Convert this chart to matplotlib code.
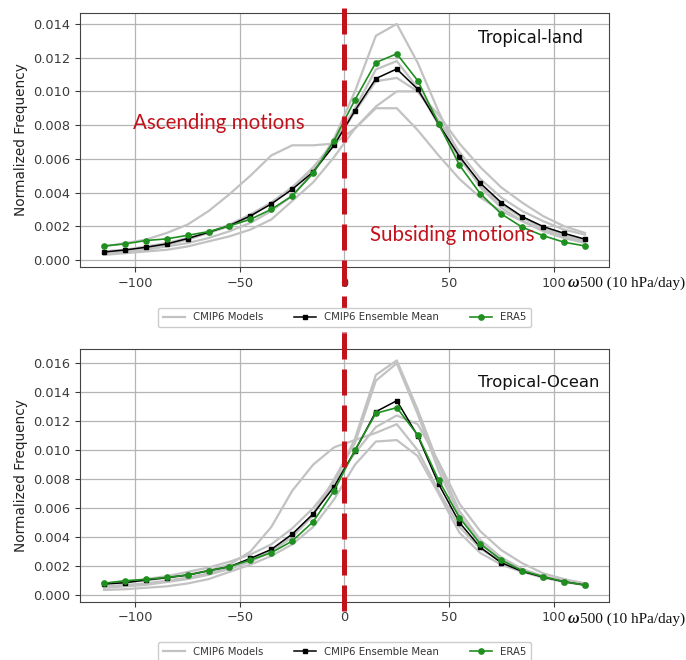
import matplotlib
matplotlib.use("Agg")
import matplotlib.pyplot as plt
import matplotlib.transforms as mtransforms
from matplotlib.text import Annotation

# ---------------- data ----------------
omega = [-115, -105, -95, -85, -75, -65, -55, -45, -35, -25, -15, -5,
         5, 15, 25, 35, 45, 55, 65, 75, 85, 95, 105, 115]

# Tropical-land
land_era5 = [0.00083, 0.00095, 0.00115, 0.00125, 0.00146, 0.00168, 0.00202, 0.00241, 0.00300, 0.00380, 0.00514, 0.00708,
             0.00950, 0.01171, 0.01223, 0.01064, 0.00809, 0.00562, 0.00392, 0.00273, 0.00194, 0.00144, 0.00105, 0.00083]
land_mean = [0.00047, 0.00059, 0.00075, 0.00095, 0.00127, 0.00164, 0.00204, 0.00261, 0.00332, 0.00419, 0.00522, 0.00680,
             0.00886, 0.01076, 0.01133, 0.01013, 0.00807, 0.00613, 0.00455, 0.00340, 0.00257, 0.00198, 0.00158, 0.00123]
land_model_a = [0.0004, 0.0005, 0.0006, 0.0008, 0.0010, 0.0013, 0.0017, 0.0022, 0.0029, 0.0038, 0.0052, 0.0072,
                0.0100, 0.0133, 0.0140, 0.0117, 0.0088, 0.0062, 0.0043, 0.0031, 0.0023, 0.0017, 0.0013, 0.0010]
land_model_b = [0.0005, 0.0006, 0.0008, 0.0010, 0.0013, 0.0016, 0.0021, 0.0027, 0.0034, 0.0043, 0.0055, 0.0070,
                0.0090, 0.0113, 0.0118, 0.0102, 0.0080, 0.0060, 0.0044, 0.0033, 0.0025, 0.0019, 0.0015, 0.0012]
land_model_c = [0.0005, 0.0006, 0.0007, 0.0009, 0.0012, 0.0016, 0.0020, 0.0026, 0.0034, 0.0043, 0.0054, 0.0068,
                0.0088, 0.0106, 0.0108, 0.0100, 0.0083, 0.0064, 0.0048, 0.0037, 0.0029, 0.0023, 0.0018, 0.0015]
land_model_d = [0.0003, 0.0004, 0.0005, 0.0006, 0.0008, 0.0011, 0.0014, 0.0018, 0.0024, 0.0035, 0.0046, 0.0061,
                0.0078, 0.0091, 0.0100, 0.0100, 0.0086, 0.0069, 0.0055, 0.0043, 0.0034, 0.0026, 0.0020, 0.0016]
land_model_e = [0.0008, 0.0010, 0.0012, 0.0016, 0.0021, 0.0029, 0.0039, 0.0050, 0.0062, 0.0068, 0.0068, 0.0069,
                0.0078, 0.0090, 0.0090, 0.0077, 0.0062, 0.0048, 0.0037, 0.0029, 0.0023, 0.0018, 0.0014, 0.0011]

# Tropical-Ocean
ocean_era5 = [0.00081, 0.00099, 0.00108, 0.00122, 0.00138, 0.00168, 0.00196, 0.00242, 0.00292, 0.00373, 0.00506, 0.00720,
              0.01001, 0.01255, 0.01294, 0.01105, 0.00794, 0.00534, 0.00352, 0.00242, 0.00168, 0.00127, 0.00092, 0.00069]
ocean_mean = [0.00076, 0.00085, 0.00104, 0.00120, 0.00138, 0.00168, 0.00196, 0.00253, 0.00315, 0.00421, 0.00560, 0.00748,
              0.00996, 0.01266, 0.01342, 0.01100, 0.00767, 0.00500, 0.00329, 0.00223, 0.00163, 0.00124, 0.00092, 0.00069]
ocean_model_a = [0.0005, 0.0006, 0.0007, 0.0009, 0.0011, 0.0014, 0.0018, 0.0023, 0.0030, 0.0040, 0.0055, 0.0078,
                 0.0108, 0.0152, 0.0162, 0.0128, 0.0090, 0.0058, 0.0038, 0.0026, 0.0018, 0.0013, 0.0009, 0.0007]
ocean_model_b = [0.0006, 0.0007, 0.0008, 0.0010, 0.0012, 0.0015, 0.0019, 0.0024, 0.0031, 0.0041, 0.0056, 0.0080,
                 0.0105, 0.0148, 0.0160, 0.0125, 0.0086, 0.0055, 0.0036, 0.0024, 0.0017, 0.0012, 0.0009, 0.0007]
ocean_model_c = [0.0008, 0.0009, 0.0011, 0.0013, 0.0016, 0.0019, 0.0023, 0.0028, 0.0035, 0.0046, 0.0060, 0.0078,
                 0.0098, 0.0116, 0.0124, 0.0118, 0.0092, 0.0063, 0.0044, 0.0031, 0.0022, 0.0015, 0.0011, 0.0008]
ocean_model_d = [0.00035, 0.0004, 0.0005, 0.0006, 0.0008, 0.0011, 0.0016, 0.0021, 0.0027, 0.0035, 0.0047, 0.0066,
                 0.0090, 0.0106, 0.0107, 0.0096, 0.0070, 0.0043, 0.0029, 0.0021, 0.0016, 0.0012, 0.0010, 0.0008]
ocean_model_e = [0.0008, 0.0009, 0.0010, 0.0012, 0.0014, 0.0017, 0.0021, 0.0030, 0.0047, 0.0072, 0.0090, 0.0102,
                 0.0107, 0.0112, 0.0118, 0.0100, 0.0072, 0.0047, 0.0032, 0.0023, 0.0017, 0.0013, 0.0010, 0.0008]

land_models = [land_model_a, land_model_b, land_model_c, land_model_d, land_model_e]
ocean_models = [ocean_model_a, ocean_model_b, ocean_model_c, ocean_model_d, ocean_model_e]

xticks = [-100, -50, 0, 50, 100]
land_yticks = [0.000, 0.002, 0.004, 0.006, 0.008, 0.010, 0.012, 0.014]
ocean_yticks = [0.000, 0.002, 0.004, 0.006, 0.008, 0.010, 0.012, 0.014, 0.016]

# ---------------- figure ----------------
W, H = 686, 660
fig = plt.figure(figsize=(W / 100, H / 100), dpi=100)

def fx(px):
    return px / W

def fy(py):
    return 1 - py / H

ax1 = fig.add_axes([fx(80), fy(267), fx(609) - fx(80), fy(13) - fy(267)])
ax2 = fig.add_axes([fx(80), fy(601.7), fx(609) - fx(80), fy(349) - fy(601.7)])

RED = "#c2121c"
GREY = "#c2c2c2"
GREEN = "#1f8f1f"
TICKC = "#3a3a3a"

panels = [
    (ax1, land_models, land_mean, land_era5, land_yticks, (-0.00042, 0.01465), "Tropical-land", 0.752, 0.90, 12),
    (ax2, ocean_models, ocean_mean, ocean_era5, ocean_yticks, (-0.00046, 0.01699), "Tropical-Ocean", 0.752, 0.868, 11.8),
]

for ax, models, mean, era5, yt, ylim, title, tx, ty, tfs in panels:
    for i, m in enumerate(models):
        ax.plot(omega, m, color=GREY, lw=1.6, zorder=2,
                label="CMIP6 Models" if i == 0 else None)
    ax.plot(omega, mean, color="black", lw=1.1, marker="s", ms=2.2, zorder=3,
            label="CMIP6 Ensemble Mean")
    ax.plot(omega, era5, color=GREEN, lw=1.2, marker="o", ms=3.8, zorder=3,
            label="ERA5")
    ax.set_xlim(-126.5, 126.5)
    ax.set_ylim(*ylim)
    ax.set_xticks(xticks)
    ax.set_yticks(yt)
    ax.set_yticklabels([f"{v:.3f}" for v in yt])
    ax.grid(True, color="#b4b4b4", lw=0.9)
    ax.set_axisbelow(True)
    ax.tick_params(labelsize=9.3, colors=TICKC, length=3.5)
    for s in ax.spines.values():
        s.set_color("#444444")
    ax.set_ylabel("Normalized Frequency", fontsize=9.8, color="#222222", labelpad=4)
    ax.text(tx, ty, title, transform=ax.transAxes, fontsize=tfs, color="#111111",
            ha="left", va="center")
    leg = ax.legend(loc="center", bbox_to_anchor=(0.5, -0.198), ncol=3, fontsize=7.3,
                    frameon=True, framealpha=1.0, edgecolor="#cccccc", columnspacing=3.0,
                    handlelength=2.2, borderpad=0.45)
    leg.set_zorder(6)
    for t in leg.get_texts():
        t.set_color("#333333")

# red dashed line at omega = 0 (extends beyond axes)
for ax, y0, y1 in [(ax1, 8, 333), (ax2, 333, 612)]:
    bb = ax.get_position()
    a0 = (fy(y0) - bb.y0) / bb.height
    a1 = (fy(y1) - bb.y0) / bb.height
    trans = mtransforms.blended_transform_factory(ax.transData, ax.transAxes)
    ax.plot([0, 0], [a0, a1], transform=trans, color=RED, lw=3.6,
            linestyle=(0, (5.2, 2.0)), clip_on=False, zorder=4)

# annotations
ax1.text(fx(133), fy(123), "Ascending motions", transform=fig.transFigure,
         fontsize=14.8, color=RED, family="Lato", ha="left", va="center", zorder=5)
ax1.text(fx(370), fy(235), "Subsiding motions", transform=fig.transFigure,
         fontsize=14.8, color=RED, family="Lato", ha="left", va="center", zorder=5)

# x-axis unit labels
for yy in (283, 619):
    t1 = fig.text(fx(568), fy(yy), "\u03c9", fontsize=11.5, family="Liberation Serif",
                  fontweight="bold", fontstyle="italic", color="#111111",
                  ha="left", va="center")
    fig.add_artist(Annotation(
        "500 (10 hPa/day)", xy=(1.0, 0.5), xycoords=t1, fontsize=11,
        family="Liberation Serif", color="#111111", ha="left", va="center"))

fig.savefig("out.png", dpi=100)
